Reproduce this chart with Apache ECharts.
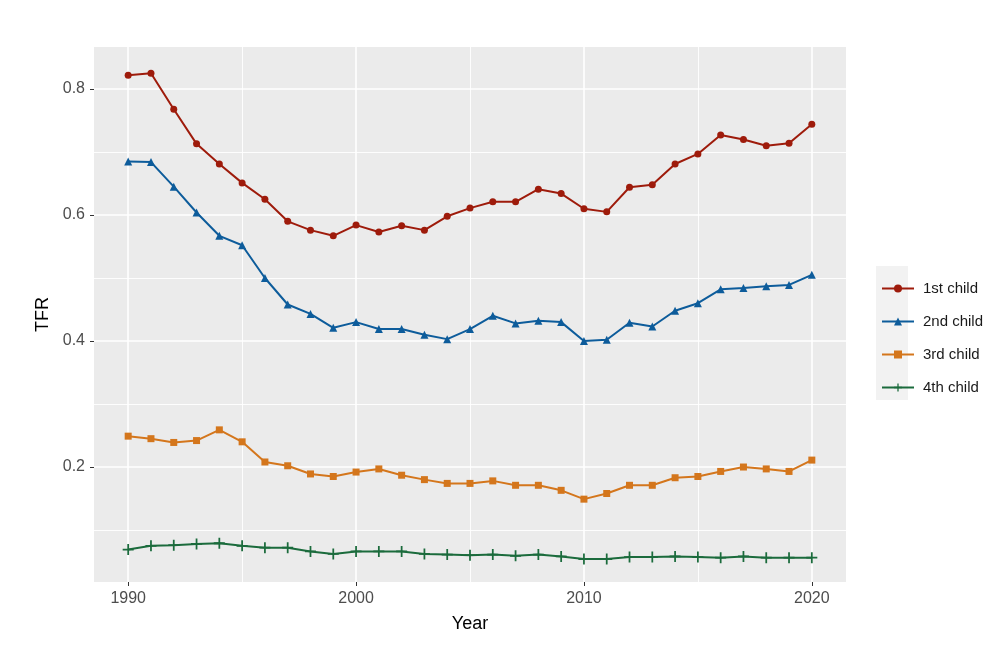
<!DOCTYPE html>
<html>
<head>
<meta charset="utf-8">
<script src="https://cdn.jsdelivr.net/npm/echarts@6/dist/echarts.min.js"></script>
<style>html,body{margin:0;padding:0;background:#fff;}#c{width:1000px;height:660px;}</style>
</head>
<body>
<div id="c"></div>
<script>
const years = [1990,1991,1992,1993,1994,1995,1996,1997,1998,1999,2000,2001,2002,2003,2004,2005,2006,2007,2008,2009,2010,2011,2012,2013,2014,2015,2016,2017,2018,2019,2020];
const first = [0.822,0.825,0.768,0.713,0.681,0.651,0.625,0.590,0.576,0.567,0.584,0.573,0.583,0.576,0.598,0.611,0.621,0.621,0.641,0.634,0.610,0.605,0.644,0.648,0.681,0.697,0.727,0.720,0.710,0.714,0.744];
const second = [0.685,0.684,0.645,0.604,0.567,0.552,0.500,0.458,0.443,0.421,0.430,0.419,0.419,0.410,0.403,0.419,0.440,0.428,0.432,0.430,0.400,0.402,0.429,0.423,0.448,0.460,0.482,0.484,0.487,0.489,0.505];
const third = [0.249,0.245,0.239,0.242,0.259,0.240,0.208,0.202,0.189,0.185,0.192,0.197,0.187,0.180,0.174,0.174,0.178,0.171,0.171,0.163,0.149,0.158,0.171,0.171,0.183,0.185,0.193,0.200,0.197,0.193,0.211];
const fourth = [0.069,0.075,0.076,0.078,0.079,0.075,0.072,0.072,0.066,0.062,0.066,0.066,0.066,0.062,0.061,0.060,0.061,0.059,0.061,0.058,0.054,0.054,0.057,0.057,0.058,0.057,0.056,0.058,0.056,0.056,0.056];
const seriesNames = ['1st child','2nd child','3rd child','4th child'];
const xMajor = [1990,2000,2010,2020];
const xMinor = [1995,2005,2015];
const yMajor = [0.2,0.4,0.6,0.8];
const yMinor = [0.1,0.3,0.5,0.7];

const pairs = arr => years.map((y,i)=>[y,arr[i]]);
const font = '"Liberation Sans", Arial, sans-serif';
const plus = 'path://M4.2,0H5.8V4.2H10V5.8H5.8V10H4.2V5.8H0V4.2H4.2Z';

const gridLines = [].concat(
  xMinor.map(v=>({xAxis:v, lineStyle:{color:'#fff',width:0.9,type:'solid'}})),
  yMinor.map(v=>({yAxis:v, lineStyle:{color:'#fff',width:0.9,type:'solid'}})),
  xMajor.map(v=>({xAxis:v, lineStyle:{color:'#fff',width:1.6,type:'solid'}})),
  yMajor.map(v=>({yAxis:v, lineStyle:{color:'#fff',width:1.6,type:'solid'}}))
);

function mk(name, data, color, symbol, size){
  return {
    name, type:'line', data: pairs(data), z:10,
    symbol, symbolSize:size, showSymbol:true,
    lineStyle:{color, width:2},
    itemStyle:{color},
    emphasis:{disabled:true}
  };
}

const chart = echarts.init(document.getElementById('c'), null, {renderer:'canvas'});
chart.setOption({
  animation:false,
  backgroundColor:'#fff',
  textStyle:{fontFamily:font},
  grid:{left:94, top:47, width:752, height:535, show:true, backgroundColor:'#EBEBEB', borderWidth:0, containLabel:false},
  xAxis:{
    type:'value', min:1988.5, max:2021.5,
    splitLine:{show:false}, axisLine:{show:false},
    axisTick:{show:true, customValues:xMajor, length:4, lineStyle:{color:'#333',width:1}},
    axisLabel:{customValues:xMajor, color:'#4D4D4D', fontSize:16, margin:9, fontFamily:font, formatter:v=>String(v)},
    name:'Year', nameLocation:'middle', nameGap:33,
    nameTextStyle:{color:'#000', fontSize:18, fontFamily:font}
  },
  yAxis:{
    type:'value', min:0.0175, max:0.8667,
    splitLine:{show:false}, axisLine:{show:false},
    axisTick:{show:true, customValues:yMajor, length:4, lineStyle:{color:'#333',width:1}},
    axisLabel:{customValues:yMajor, color:'#4D4D4D', fontSize:16, margin:9, fontFamily:font, formatter:v=>v.toFixed(1)},
    name:'TFR', nameLocation:'middle', nameGap:40, nameRotate:90,
    nameTextStyle:{color:'#000', fontSize:18, fontFamily:font}
  },
  legend:{
    orient:'vertical', left:876, top:276, itemGap:18, itemWidth:32, itemHeight:10,
    data:seriesNames,
    textStyle:{color:'#1a1a1a', fontSize:15, fontFamily:font, padding:[0,0,0,4]}
  },
  graphic:[{type:'rect', left:876, top:266, shape:{width:32, height:134}, style:{fill:'#F2F2F2'}, z:-1, silent:true}],
  series:[
    {type:'line', data:[], z:1, silent:true, markLine:{z:1, silent:true, symbol:['none','none'], label:{show:false}, data:gridLines, animation:false}},
    mk(seriesNames[0], first, '#9E1B0B', 'circle', 7),
    mk(seriesNames[1], second, '#0D5C9B', 'triangle', 8),
    mk(seriesNames[2], third, '#D4761C', 'rect', 7),
    mk(seriesNames[3], fourth, '#1B6B3C', plus, 11)
  ]
});
</script>
</body>
</html>
